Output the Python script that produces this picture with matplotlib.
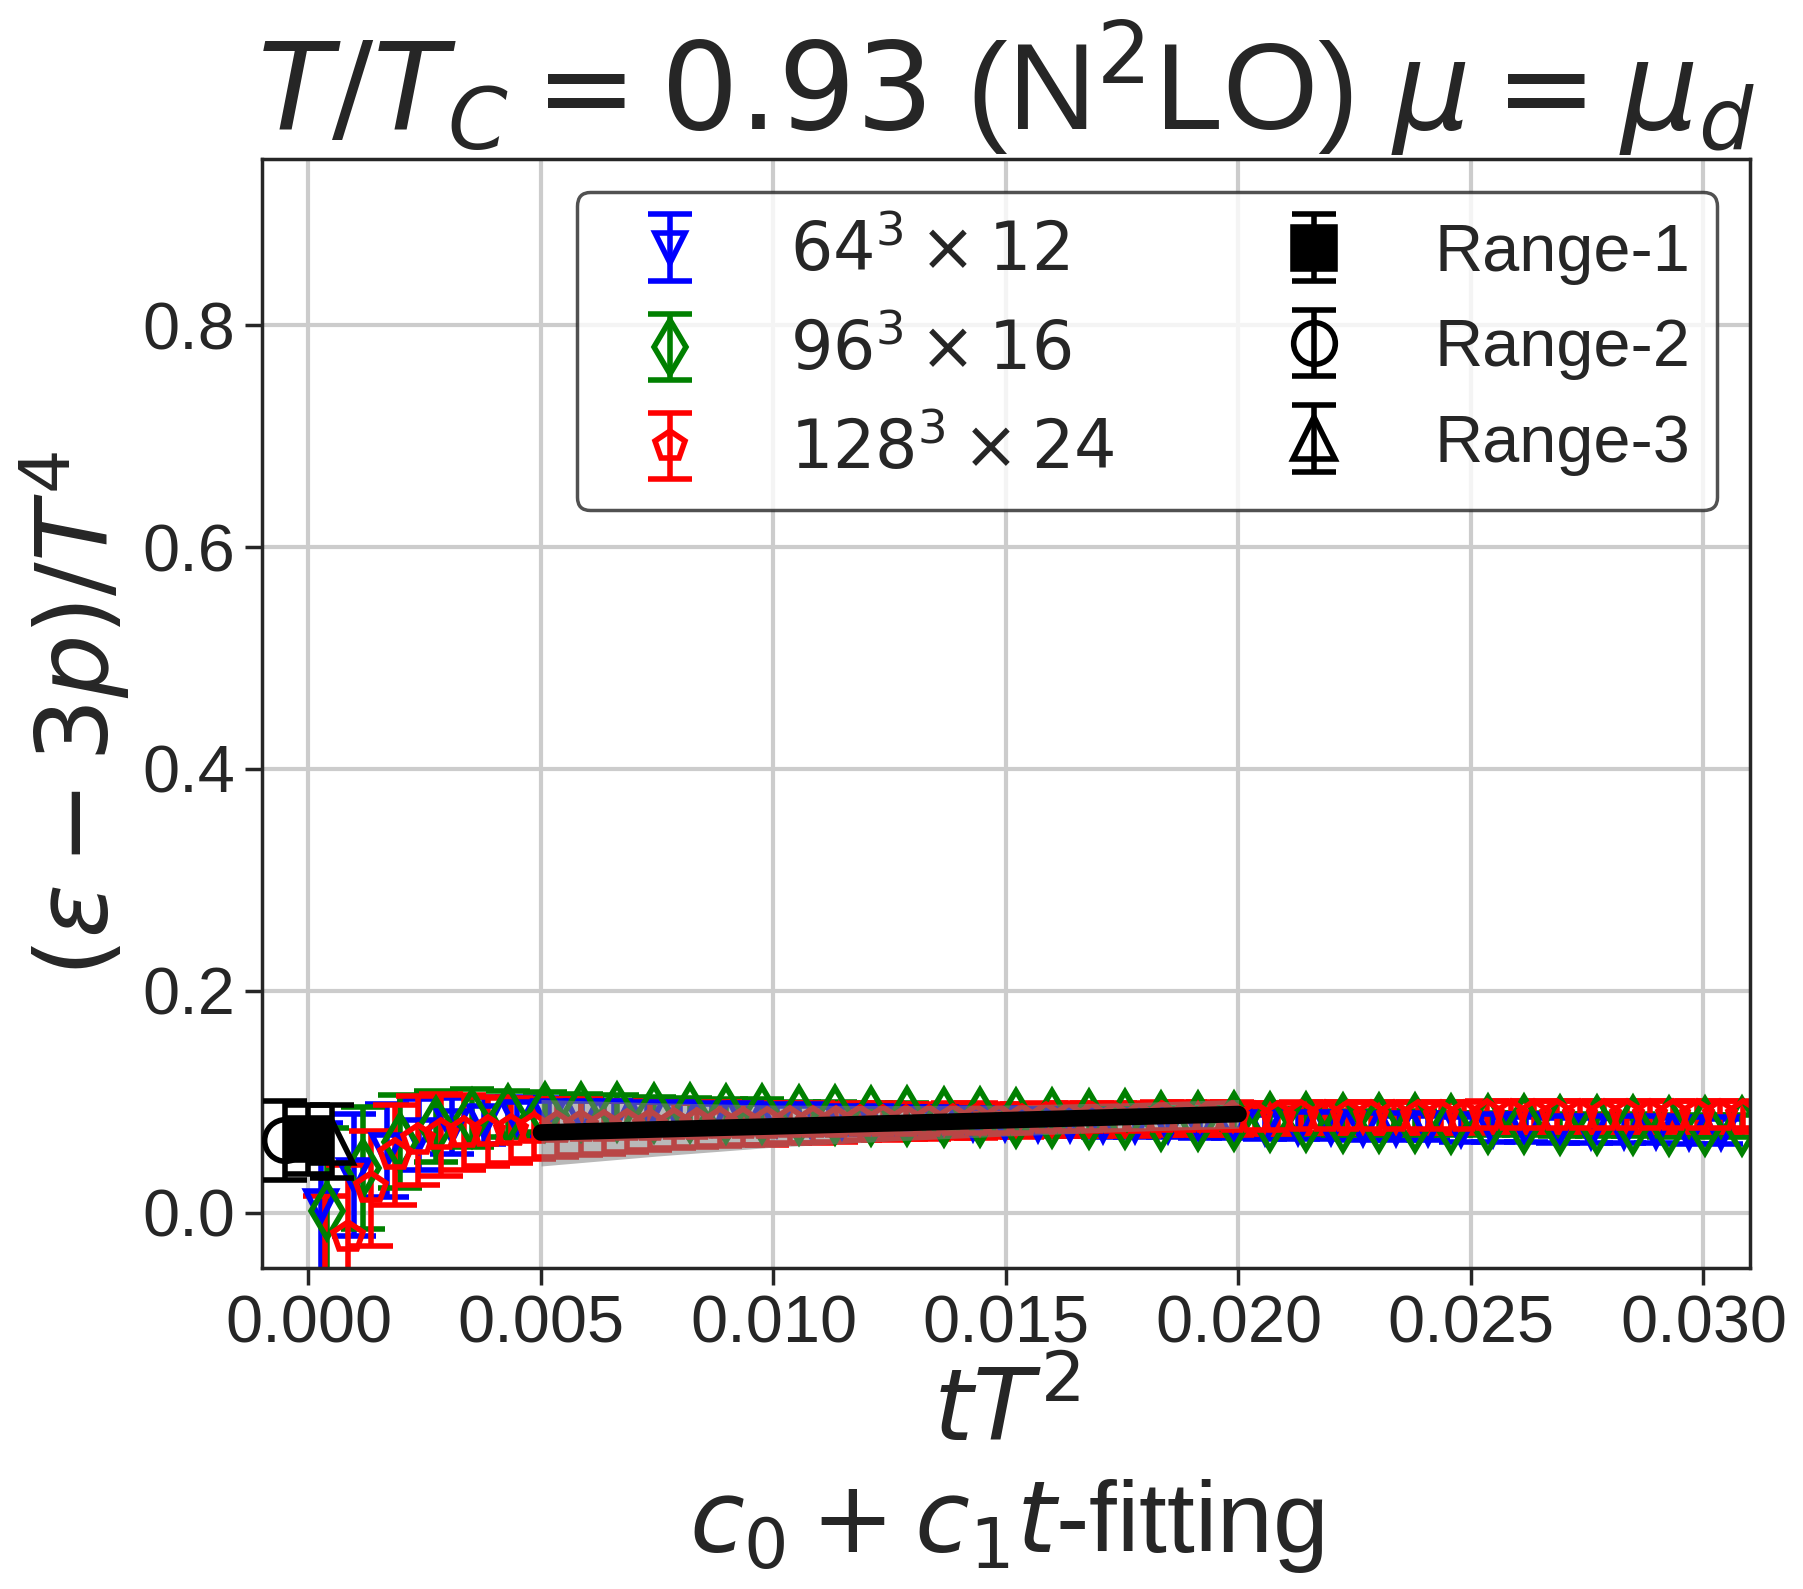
import numpy as np
import matplotlib
matplotlib.use("Agg")
import matplotlib.pyplot as plt

# tT^2 values and (e-3p)/T^4 for the three lattices
x_64 = [0.00028, 0.00098, 0.00168, 0.00238, 0.00308, 0.00378, 0.00448, 0.00518, 0.00588, 0.00658,
        0.00728, 0.00798, 0.00868, 0.00938, 0.01008, 0.01078, 0.01148, 0.01218, 0.01288, 0.01358,
        0.01428, 0.01498, 0.01568, 0.01638, 0.01708, 0.01778, 0.01848, 0.01918, 0.01988, 0.02058,
        0.02128, 0.02198, 0.02268, 0.02338, 0.02408, 0.02478, 0.02548, 0.02618, 0.02688, 0.02758,
        0.02828, 0.02898, 0.02968, 0.03038]
y_64 = [0.006, 0.034, 0.056, 0.070, 0.078, 0.083, 0.086, 0.087, 0.087, 0.087,
        0.086, 0.086, 0.085, 0.085, 0.084, 0.084, 0.083, 0.083, 0.082, 0.082,
        0.081, 0.081, 0.080, 0.080, 0.079, 0.079, 0.079, 0.078, 0.078, 0.077,
        0.077, 0.077, 0.076, 0.076, 0.076, 0.075, 0.075, 0.075, 0.074, 0.074,
        0.074, 0.074, 0.073, 0.073]
e_64 = [0.075, 0.055, 0.042, 0.032, 0.025, 0.021, 0.018, 0.016, 0.015, 0.014,
        0.014, 0.013, 0.013, 0.013, 0.012, 0.012, 0.012, 0.012, 0.012, 0.012,
        0.011, 0.011, 0.011, 0.011, 0.011, 0.011, 0.011, 0.011, 0.011, 0.011,
        0.011, 0.011, 0.011, 0.011, 0.011, 0.011, 0.011, 0.011, 0.011, 0.011,
        0.011, 0.011, 0.011, 0.011]

x_96 = [0.00040, 0.00118, 0.00196, 0.00274, 0.00352, 0.00430, 0.00508, 0.00586, 0.00664, 0.00742,
        0.00820, 0.00898, 0.00976, 0.01054, 0.01132, 0.01210, 0.01288, 0.01366, 0.01444, 0.01522,
        0.01600, 0.01678, 0.01756, 0.01834, 0.01912, 0.01990, 0.02068, 0.02146, 0.02224, 0.02302,
        0.02380, 0.02458, 0.02536, 0.02614, 0.02692, 0.02770, 0.02848, 0.02926, 0.03004, 0.03082]
y_96 = [0.001, 0.040, 0.064, 0.078, 0.085, 0.089, 0.091, 0.091, 0.091, 0.090,
        0.090, 0.089, 0.089, 0.088, 0.088, 0.087, 0.087, 0.086, 0.086, 0.085,
        0.085, 0.084, 0.084, 0.083, 0.083, 0.083, 0.082, 0.082, 0.081, 0.081,
        0.081, 0.080, 0.080, 0.080, 0.079, 0.079, 0.079, 0.078, 0.078, 0.078]
e_96 = [0.075, 0.055, 0.042, 0.032, 0.026, 0.021, 0.018, 0.016, 0.015, 0.014,
        0.013, 0.013, 0.013, 0.012, 0.012, 0.012, 0.012, 0.011, 0.011, 0.011,
        0.011, 0.011, 0.011, 0.011, 0.011, 0.011, 0.011, 0.011, 0.011, 0.011,
        0.011, 0.010, 0.010, 0.010, 0.010, 0.010, 0.010, 0.010, 0.010, 0.010]

x_128 = [0.00035, 0.00085, 0.00135, 0.00185, 0.00235, 0.00285, 0.00335, 0.00385, 0.00435, 0.00485,
         0.00535, 0.00585, 0.00635, 0.00685, 0.00735, 0.00785, 0.00835, 0.00885, 0.00935, 0.00985,
         0.01035, 0.01085, 0.01135, 0.01185, 0.01235, 0.01285, 0.01335, 0.01385, 0.01435, 0.01485,
         0.01535, 0.01585, 0.01635, 0.01685, 0.01735, 0.01785, 0.01835, 0.01885, 0.01935, 0.01985,
         0.02035, 0.02085, 0.02135, 0.02185, 0.02235, 0.02285, 0.02335, 0.02385, 0.02435, 0.02485,
         0.02535, 0.02585, 0.02635, 0.02685, 0.02735, 0.02785, 0.02835, 0.02885, 0.02935, 0.02985,
         0.03035, 0.03085]
y_128 = [-0.065, -0.022, 0.022, 0.052, 0.065, 0.070, 0.072, 0.073, 0.074, 0.075,
         0.076, 0.077, 0.077, 0.078, 0.078, 0.079, 0.079, 0.080, 0.080, 0.080,
         0.081, 0.081, 0.081, 0.082, 0.082, 0.082, 0.082, 0.083, 0.083, 0.083,
         0.083, 0.084, 0.084, 0.084, 0.084, 0.084, 0.085, 0.085, 0.085, 0.085,
         0.085, 0.085, 0.086, 0.086, 0.086, 0.086, 0.086, 0.086, 0.086, 0.086,
         0.087, 0.087, 0.087, 0.087, 0.087, 0.087, 0.087, 0.087, 0.087, 0.087,
         0.087, 0.087]
e_128 = [0.080, 0.065, 0.052, 0.045, 0.040, 0.037, 0.034, 0.031, 0.029, 0.027,
         0.026, 0.025, 0.024, 0.023, 0.022, 0.021, 0.020, 0.020, 0.019, 0.019,
         0.018, 0.018, 0.017, 0.017, 0.017, 0.016, 0.016, 0.016, 0.016, 0.015,
         0.015, 0.015, 0.015, 0.015, 0.015, 0.015, 0.015, 0.015, 0.015, 0.015,
         0.014, 0.014, 0.014, 0.014, 0.014, 0.014, 0.014, 0.014, 0.014, 0.014,
         0.014, 0.014, 0.014, 0.014, 0.014, 0.014, 0.014, 0.014, 0.014, 0.014,
         0.014, 0.014]

# continuum extrapolations (slightly shifted in x)
range_x = [0.0, -0.0005, 0.0005]
range_y = [0.066, 0.065, 0.064]
range_e = [0.031, 0.036, 0.033]

# c0 + c1 t fit, range 0.005 - 0.020
fit_x = [0.005, 0.0075, 0.010, 0.0125, 0.015, 0.0175, 0.020]
fit_y = [0.0722, 0.0750, 0.0777, 0.0805, 0.0833, 0.0861, 0.0888]
fit_lo = [0.042, 0.051, 0.059, 0.0645, 0.069, 0.073, 0.076]
fit_hi = [0.102, 0.099, 0.097, 0.0965, 0.097, 0.099, 0.102]

dark = '#262626'
plt.rcParams['font.family'] = 'sans-serif'
plt.rcParams['font.sans-serif'] = ['Liberation Sans', 'DejaVu Sans']
plt.rcParams['mathtext.fontset'] = 'dejavusans'
plt.rcParams['text.color'] = dark
plt.rcParams['axes.labelcolor'] = dark
plt.rcParams['xtick.color'] = dark
plt.rcParams['ytick.color'] = dark

fig = plt.figure(figsize=(9.015, 7.945), dpi=200)
ax = fig.add_axes([0.1453, 0.2020, 0.8253, 0.6979])

kw = dict(ls='none', mfc='none', mew=2, elinewidth=2, capsize=8, capthick=2)
ax.errorbar(x_64, y_64, yerr=e_64, marker='v', ms=11, color='blue',
            label=r'$64^3\times 12$', **kw)
ax.errorbar(x_96, y_96, yerr=e_96, marker='d', ms=14, color='green',
            label=r'$96^3\times 16$', **kw)
ax.errorbar(x_128, y_128, yerr=e_128, marker='p', ms=11, color='red',
            label=r'$128^3\times 24$', **kw)

ax.fill_between(fit_x, fit_lo, fit_hi, color='gray', alpha=0.55, lw=0, zorder=5)
ax.plot(fit_x, fit_y, color='black', lw=6, solid_capstyle='round', zorder=6)

rkw = dict(ls='none', color='black', ms=15, mew=2, elinewidth=2,
           capsize=8, capthick=2, zorder=7)
ax.errorbar([range_x[0]], [range_y[0]], yerr=[range_e[0]], marker='s',
            label='Range-1', **rkw)
ax.errorbar([range_x[1]], [range_y[1]], yerr=[range_e[1]], marker='o',
            mfc='none', label='Range-2', **rkw)
ax.errorbar([range_x[2]], [range_y[2]], yerr=[range_e[2]], marker='^',
            mfc='none', label='Range-3', **rkw)

ax.set_xlim(-0.001, 0.031)
ax.set_ylim(-0.05, 0.95)
ax.set_xticks([0.0, 0.005, 0.010, 0.015, 0.020, 0.025, 0.030])
ax.set_xticklabels(['0.000', '0.005', '0.010', '0.015', '0.020', '0.025', '0.030'])
ax.set_yticks([0.0, 0.2, 0.4, 0.6, 0.8])
ax.tick_params(labelsize=24, length=6, width=1.25, direction='out')
ax.grid(True, color='#cccccc', lw=1.5)
ax.set_axisbelow(True)
for s in ax.spines.values():
    s.set_color(dark)
    s.set_linewidth(1.25)

ax.set_title(r'$T/T_C = 0.93$ (N$^2$LO) $\mu = \mu_d$', fontsize=44, pad=7)
ax.set_xlabel('$tT^2$\n$c_0 + c_1t$-fitting', fontsize=36)
ax.set_ylabel(r'$(\varepsilon - 3p)/T^4$', fontsize=36)

leg = ax.legend(loc='upper right', ncol=2, fontsize=24, framealpha=0.8)
leg.get_frame().set_edgecolor(dark)
leg.get_frame().set_linewidth(1.25)

fig.savefig('out.png', dpi=200)
